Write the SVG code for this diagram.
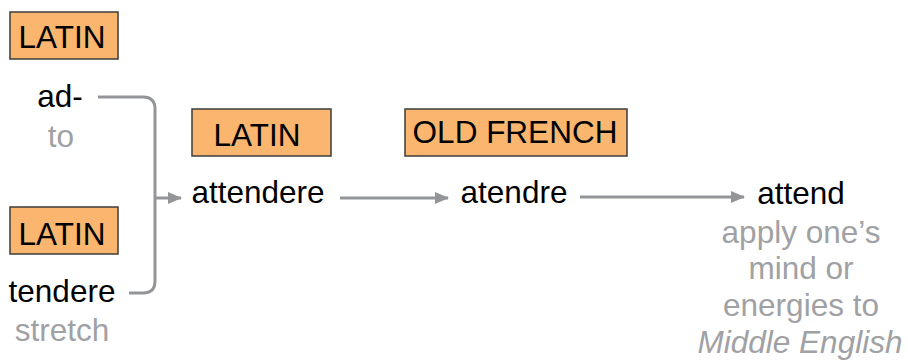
<svg xmlns="http://www.w3.org/2000/svg" width="908" height="360" viewBox="0 0 908 360">
<defs>
<style>
.box{fill:#FAB56E;stroke:#3C3C3C;stroke-width:1.5}
.lab{font-family:"Liberation Sans",Arial,sans-serif;font-size:31.5px;fill:#000}
.w{font-family:"Liberation Sans",Arial,sans-serif;font-size:31.5px;fill:#000}
.g{font-family:"Liberation Sans",Arial,sans-serif;font-size:31.5px;fill:#A0A1A4}
.c{fill:none;stroke:#939598;stroke-width:3}
</style>
<marker id="ah" markerWidth="14" markerHeight="12" refX="13" refY="6" orient="auto" markerUnits="userSpaceOnUse">
<path d="M0,0 L14,6 L0,12 Z" fill="#939598"/>
</marker>
</defs>
<rect width="908" height="360" fill="#fff"/>
<g id="latin1"><rect class="box" x="10" y="12" width="108" height="47"/><text class="lab" x="62" y="48" text-anchor="middle">LATIN</text></g>
<g id="ad"><text class="w" x="60" y="107" text-anchor="middle">ad-</text><text class="g" x="61" y="147" text-anchor="middle">to</text></g>
<g id="latin2"><rect class="box" x="10" y="207" width="108" height="47"/><text class="lab" x="62" y="245" text-anchor="middle">LATIN</text></g>
<g id="tendere"><text class="w" x="62" y="302" text-anchor="middle">tendere</text><text class="g" x="62" y="341" text-anchor="middle">stretch</text></g>
<g id="latin3"><rect class="box" x="192" y="109" width="139" height="47"/><text class="lab" x="257" y="146" text-anchor="middle">LATIN</text></g>
<g id="attendere"><text class="w" x="258" y="203" text-anchor="middle">attendere</text></g>
<g id="oldfrench"><rect class="box" x="405" y="109" width="222" height="47"/><text class="lab" x="515" y="143" text-anchor="middle">OLD FRENCH</text></g>
<g id="atendre"><text class="w" x="514" y="203" text-anchor="middle">atendre</text></g>
<g id="attend"><text class="w" x="801" y="204" text-anchor="middle">attend</text>
<text class="g" x="801" y="243" text-anchor="middle">apply one’s</text>
<text class="g" x="801" y="279" text-anchor="middle">mind or</text>
<text class="g" x="801" y="316" text-anchor="middle">energies to</text>
<text class="g" x="800" y="353" text-anchor="middle" font-style="italic">Middle English</text></g>
<g id="connectors">
<path class="c" d="M98,97 H143 Q155,97 155,109 V281 Q155,293 143,293 H129"/>
<path class="c" d="M155,198 H181" marker-end="url(#ah)"/>
<path class="c" d="M340,198 H448" marker-end="url(#ah)"/>
<path class="c" d="M580,197 H744" marker-end="url(#ah)"/>
</g>
</svg>
